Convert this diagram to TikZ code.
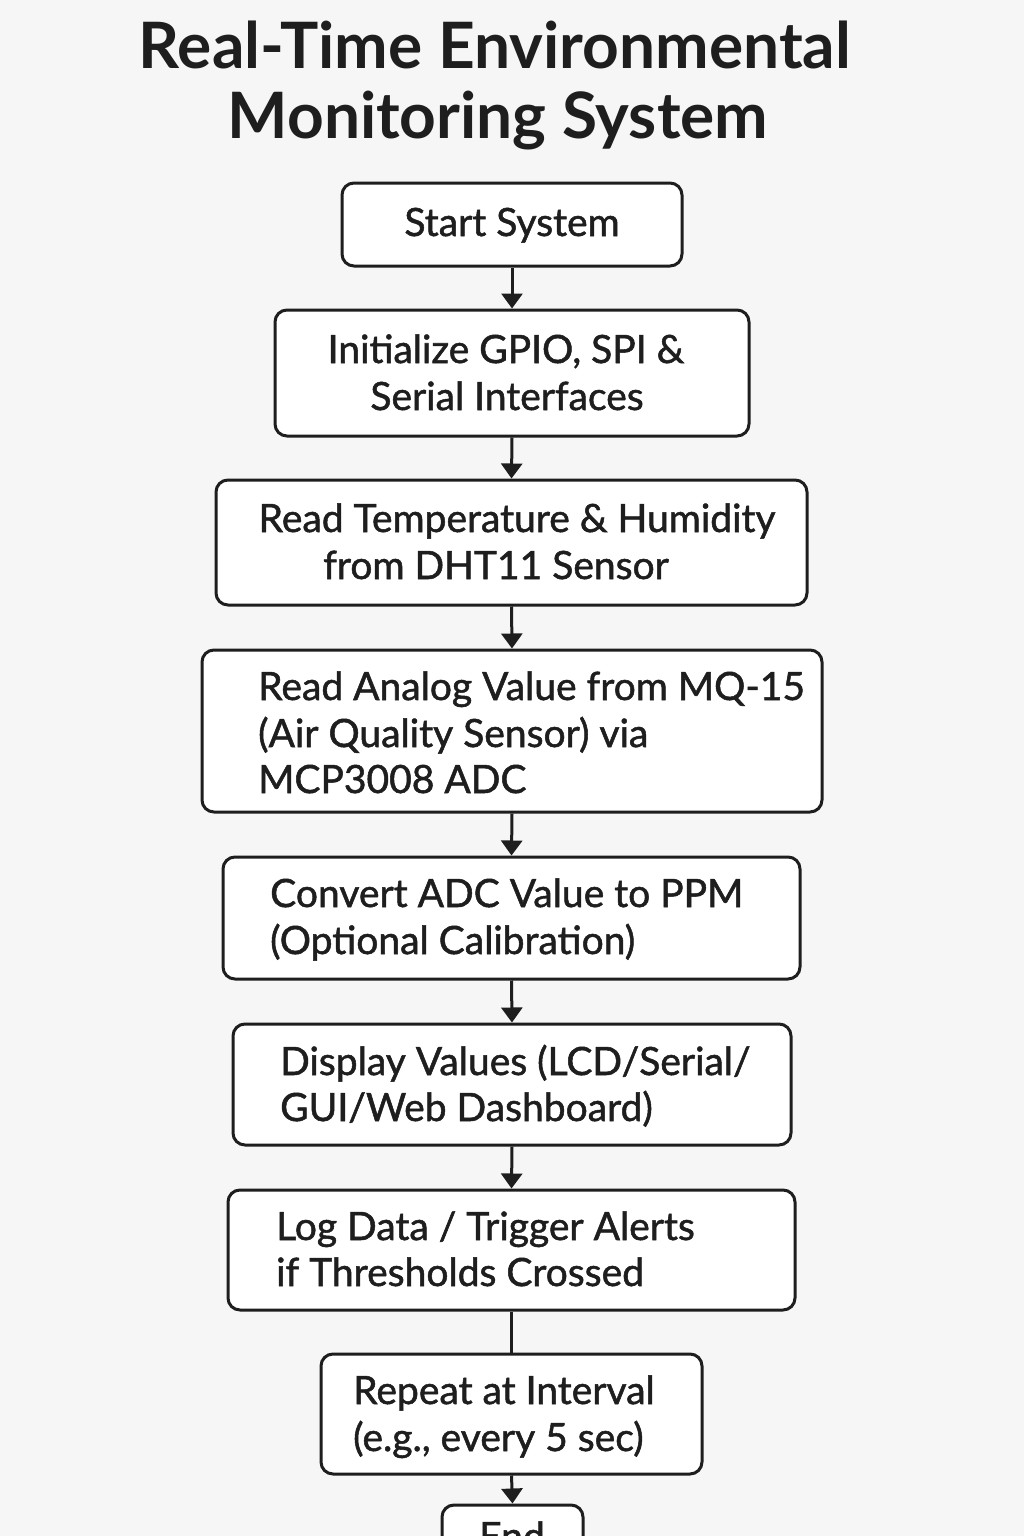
\documentclass[tikz,border=0pt]{standalone}
\usepackage{fontspec}
\setmainfont{Lato}
\newfontfamily\medfont[FakeBold=1.3]{Lato}
\usetikzlibrary{arrows.meta}
\definecolor{bgc}{HTML}{F6F6F6}
\definecolor{ink}{HTML}{1E1E1E}
\tikzset{
  box/.style={draw=ink, line width=3pt, rounded corners=12pt, fill=white, inner sep=0pt},
  txt/.style={text=ink, font=\medfont\fontsize{39}{47}\selectfont, inner sep=0pt},
  ttl/.style={text=ink, font=\fontsize{64}{70}\selectfont\bfseries, inner sep=0pt, align=center},
  arr/.style={draw=ink, line width=3pt, -{Triangle[width=21pt,length=15pt]}},
  ln/.style={draw=ink, line width=3pt}
}
\begin{document}
\begin{tikzpicture}[x=1pt,y=-1pt]
\useasboundingbox (0,0) rectangle (1024,1536);
\clip (0,0) rectangle (1024,1536);
\fill[bgc] (0,0) rectangle (1024,1536);
% title
\node[ttl, anchor=base] (t1) at (495,69) {Real-Time Environmental};
\node[ttl, anchor=base] (t2) at (498,139) {Monitoring System};
% boxes
\node[box, minimum width=340pt, minimum height=83pt] (b1) at (512,224.5) {};
\node[box, minimum width=474pt, minimum height=126pt] (b2) at (512,373) {};
\node[box, minimum width=591pt, minimum height=125pt] (b3) at (511.5,542.5) {};
\node[box, minimum width=620pt, minimum height=162pt] (b4) at (512,731) {};
\node[box, minimum width=577pt, minimum height=122pt] (b5) at (511.5,918) {};
\node[box, minimum width=558pt, minimum height=121pt] (b6) at (512,1084.5) {};
\node[box, minimum width=567pt, minimum height=120pt] (b7) at (511.5,1250) {};
\node[box, minimum width=381pt, minimum height=120pt] (b8) at (511.5,1414) {};
\node[box, minimum width=141pt, minimum height=80pt] (b9) at (512.5,1545) {};
% texts
\node[txt, anchor=base] (s1) at (512,236) {Start System};
\node[txt, anchor=base] (s2a) at (506,363) {Initialize GPIO, SPI \&};
\node[txt, anchor=base] (s2b) at (507,410) {Serial Interfaces};
\node[txt, anchor=base] (s3a) at (517,532) {Read Temperature \& Humidity};
\node[txt, anchor=base] (s3b) at (496,579) {from DHT11 Sensor};
\node[txt, anchor=base west] (s4a) at (258,700) {Read Analog Value from MQ-15};
\node[txt, anchor=base west] (s4b) at (258,747) {(Air Quality Sensor) via};
\node[txt, anchor=base west] (s4c) at (258,793) {MCP3008 ADC};
\node[txt, anchor=base west] (s5a) at (270,907) {Convert ADC Value to PPM};
\node[txt, anchor=base west] (s5b) at (270,954) {(Optional Calibration)};
\node[txt, anchor=base west] (s6a) at (280,1075) {Display Values (LCD/Serial/};
\node[txt, anchor=base west] (s6b) at (280,1121) {GUI/Web Dashboard)};
\node[txt, anchor=base west] (s7a) at (276,1240) {Log Data / Trigger Alerts};
\node[txt, anchor=base west] (s7b) at (276,1286) {if Thresholds Crossed};
\node[txt, anchor=base west] (s8a) at (353,1404) {Repeat at Interval};
\node[txt, anchor=base west] (s8b) at (353,1451) {(e.g., every 5 sec)};
\node[txt, anchor=base] (s9) at (512,1550) {End};
% connectors
\draw[arr] (b1.south) -- (b2.north);
\draw[arr] (b2.south) -- (b3.north);
\draw[arr] (b3.south) -- (b4.north);
\draw[arr] (b4.south) -- (b5.north);
\draw[arr] (b5.south) -- (b6.north);
\draw[arr] (b6.south) -- (b7.north);
\draw[ln] (b7.south) -- (b8.north);
\draw[arr] (b8.south) -- (b9.north);
\end{tikzpicture}
\end{document}
